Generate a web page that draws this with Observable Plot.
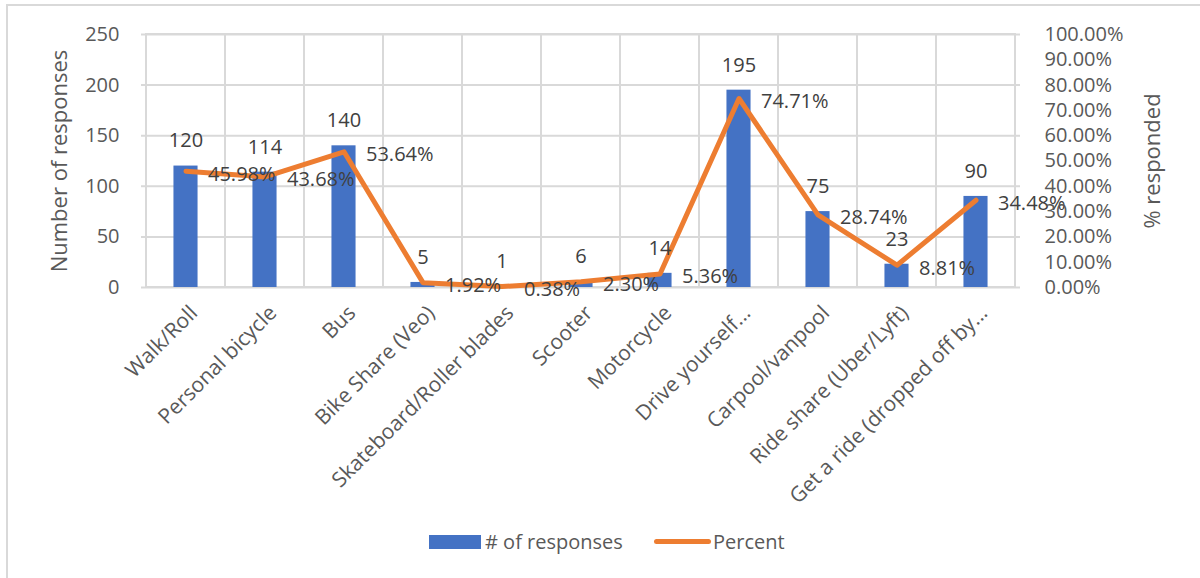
<!DOCTYPE html>
<html>
<head>
<meta charset="utf-8">
<script src="https://cdn.jsdelivr.net/npm/d3@7"></script>
<script src="https://cdn.jsdelivr.net/npm/@observablehq/plot@0.6"></script>
<style>
  html, body { margin: 0; padding: 0; background: #fff; overflow: hidden; }
  #wrap { position: relative; width: 1200px; height: 578px; font-family: "Open Sans", sans-serif; }
  #frame { position: absolute; left: 6px; top: 4px; width: 1210px; height: 620px; border: 2px solid #d9d9d9; box-sizing: border-box; }
  #chart { position: absolute; left: 0; top: 0; }
  #legend { position: absolute; left: 0; top: 529px; width: 1200px; height: 26px; font-size: 20px; color: #595959; }
  .sw { position: absolute; }
  .lt { position: absolute; top: 0; line-height: 26px; white-space: nowrap; }
</style>
</head>
<body>
<div id="wrap">
  <div id="frame"></div>
  <div id="chart"></div>
  <div id="legend">
    <div class="sw" style="left:429px; top:6px; width:52px; height:14px; background:#4472C4;"></div>
    <div class="lt" style="left:485px;"># of responses</div>
    <div class="sw" style="left:654px; top:10px; width:57px; height:5px; background:#ED7D31; border-radius:3px;"></div>
    <div class="lt" style="left:713px;">Percent</div>
  </div>
</div>
<script>
const categories = ["Walk/Roll", "Personal bicycle", "Bus", "Bike Share (Veo)", "Skateboard/Roller blades", "Scooter", "Motorcycle", "Drive yourself...", "Carpool/vanpool", "Ride share (Uber/Lyft)", "Get a ride (dropped off by..."];
const responses = [120, 114, 140, 5, 1, 6, 14, 195, 75, 23, 90];
const percents = [45.98, 43.68, 53.64, 1.92, 0.38, 2.30, 5.36, 74.71, 28.74, 8.81, 34.48];
const leftTicks = [0, 50, 100, 150, 200, 250];
const rightTicks = [0, 10, 20, 30, 40, 50, 60, 70, 80, 90, 100];

const yMax = 250;
const pctToY = p => p / 100 * yMax;
const data = categories.map((c, i) => ({cat: c, n: responses[i], p: percents[i]}));

const W = 1200, H = 520;
const mL = 141, mR = 180, mT = 34, mB = H - 287;
const bandW = (W - mL - mR) / categories.length;
const barInset = (bandW - 25) / 2;

const chart = Plot.plot({
  width: W,
  height: H,
  marginLeft: mL,
  marginRight: mR,
  marginTop: mT,
  marginBottom: mB,
  style: {fontFamily: "'Open Sans', sans-serif", fontSize: "20px", color: "#595959", background: "transparent"},
  x: {domain: categories, padding: 0, axis: null},
  y: {domain: [0, yMax], axis: null},
  marks: [
    Plot.ruleY(leftTicks, {stroke: "#d9d9d9", strokeWidth: 2}),
    Plot.barY(data, {x: "cat", y1: 0, y2: yMax, fill: "none", stroke: "#d9d9d9", strokeWidth: 2}),
    Plot.barY(data, {x: "cat", y: "n", fill: "#4472C4", insetLeft: barInset, insetRight: barInset}),
    Plot.line(data, {x: "cat", y: d => pctToY(d.p), stroke: "#ED7D31", strokeWidth: 5, strokeLinejoin: "round", strokeLinecap: "round"}),
    Plot.text(data, {x: "cat", y: "n", text: d => String(d.n), dy: -25, fill: "#404040", fontSize: 20}),
    Plot.text(data, {x: "cat", y: d => pctToY(d.p), text: d => d.p.toFixed(2) + "%", textAnchor: "start", dx: 22, dy: 3, fill: "#404040", fontSize: 20}),
    Plot.axisY(leftTicks, {anchor: "left", tickSize: 0, tickPadding: 22, label: null, fill: "#595959", fontSize: 20}),
    Plot.axisY(rightTicks.map(pctToY), {anchor: "right", tickSize: 0, tickPadding: 24, label: null, tickFormat: d => (d / yMax * 100).toFixed(2) + "%", fill: "#595959", fontSize: 20}),
    Plot.text(categories, {x: d => d, frameAnchor: "bottom", dx: 8, dy: 22, rotate: -45, textAnchor: "end", lineAnchor: "middle", fill: "#595959", fontSize: 21}),
    Plot.text(["Number of responses"], {frameAnchor: "left", dx: -82, rotate: -90, textAnchor: "middle", fill: "#595959", fontSize: 22}),
    Plot.text(["% responded"], {frameAnchor: "right", dx: 132, rotate: -90, textAnchor: "middle", fill: "#595959", fontSize: 22})
  ]
});
document.getElementById("chart").appendChild(chart);
</script>
</body>
</html>
